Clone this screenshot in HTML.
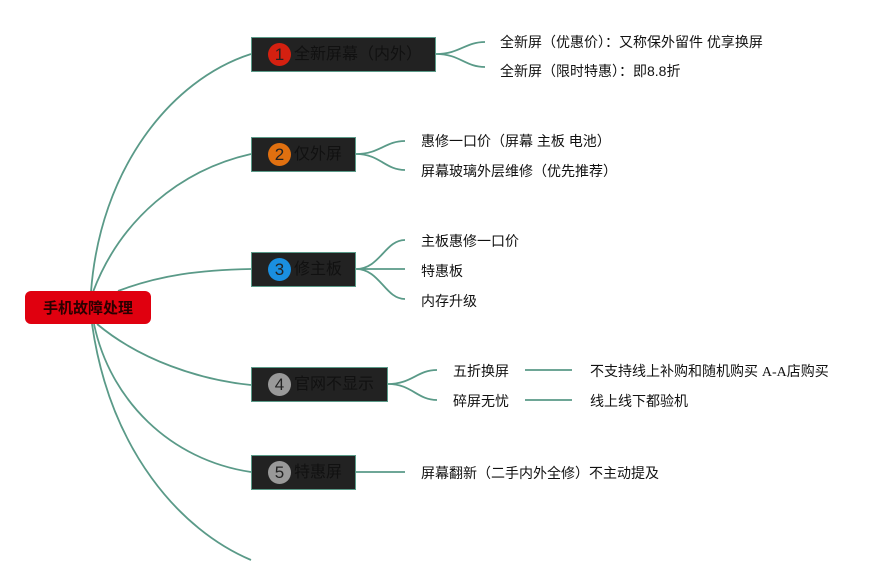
<!DOCTYPE html>
<html><head><meta charset="utf-8"><style>
body{margin:0;background:#fff;width:888px;height:585px;overflow:hidden;position:relative;font-family:"Liberation Sans","Noto Sans CJK SC",sans-serif}
.box{position:absolute;background:#222;border:1.5px solid #5a9a88;box-sizing:border-box;height:35px;color:#111;font-size:16px;line-height:34px}
.box .c{position:absolute;left:16px;top:5px;width:23px;height:23px;border-radius:50%;color:#222;font-size:17px;line-height:23px;text-align:center}
.box .t{position:absolute;left:42px;top:0;white-space:nowrap}
.l{position:absolute;font-size:14px;color:#111;white-space:nowrap;line-height:16px}
</style></head><body>
<svg width="888" height="585" style="position:absolute;left:0;top:0" fill="none" stroke="#5a9a88" stroke-width="1.8">
<path d="M91 292 C100 170,170 80,251 54"/>
<path d="M93 292 C120 220,180 170,251 154"/>
<path d="M118 291 C160 275,200 270,251 269"/>
<path d="M97 324 C140 360,200 380,251 385"/>
<path d="M94 324 C110 400,170 460,251 472"/>
<path d="M92 324 C110 450,180 530,251 560"/>
<path d="M436 54 C460 54,465 42,485 42 M436 54 C460 54,465 67,485 67"/>
<path d="M356 154 C380 154,385 141,405 141 M356 154 C380 154,385 170,405 170"/>
<path d="M356 269 C380 269,385 240,405 240 M356 269 L405 269 M356 269 C380 269,385 299,405 299"/>
<path d="M388 384 C412 384,417 370,437 370 M388 384 C412 384,417 400,437 400"/>
<path d="M525 370 H572 M525 400 H572"/>
<path d="M356 472 H405"/>
</svg>
<div style="position:absolute;left:25px;top:291px;width:126px;height:33px;background:#e0000f;border-radius:6px;color:#2a0000;font-weight:bold;font-size:15px;line-height:35px;text-align:center">手机故障处理</div>
<div class="box" style="left:251px;top:37px;width:185px"><span class="c" style="background:#d42010">1</span><span class="t">全新屏幕（内外）</span></div>
<div class="box" style="left:251px;top:137px;width:105px"><span class="c" style="background:#e07010">2</span><span class="t">仅外屏</span></div>
<div class="box" style="left:251px;top:252px;width:105px"><span class="c" style="background:#1a8fe0">3</span><span class="t">修主板</span></div>
<div class="box" style="left:251px;top:367px;width:137px"><span class="c" style="background:#999">4</span><span class="t">官网不显示</span></div>
<div class="box" style="left:251px;top:455px;width:105px"><span class="c" style="background:#999">5</span><span class="t">特惠屏</span></div>
<div class="l" style="left:500px;top:34px">全新屏（优惠价）：又称保外留件 优享换屏</div>
<div class="l" style="left:500px;top:63px">全新屏（限时特惠）：即8.8折</div>
<div class="l" style="left:421px;top:133px">惠修一口价（屏幕 主板 电池）</div>
<div class="l" style="left:421px;top:163px">屏幕玻璃外层维修（优先推荐）</div>
<div class="l" style="left:421px;top:233px">主板惠修一口价</div>
<div class="l" style="left:421px;top:263px">特惠板</div>
<div class="l" style="left:421px;top:293px">内存升级</div>
<div class="l" style="left:453px;top:363px">五折换屏</div>
<div class="l" style="left:453px;top:393px">碎屏无忧</div>
<div class="l" style="left:590px;top:363px">不支持线上补购和随机购买 <span style="font-family:'Liberation Serif',serif">A-A</span>店购买</div>
<div class="l" style="left:590px;top:393px">线上线下都验机</div>
<div class="l" style="left:421px;top:465px">屏幕翻新（二手内外全修）不主动提及</div>
</body></html>
